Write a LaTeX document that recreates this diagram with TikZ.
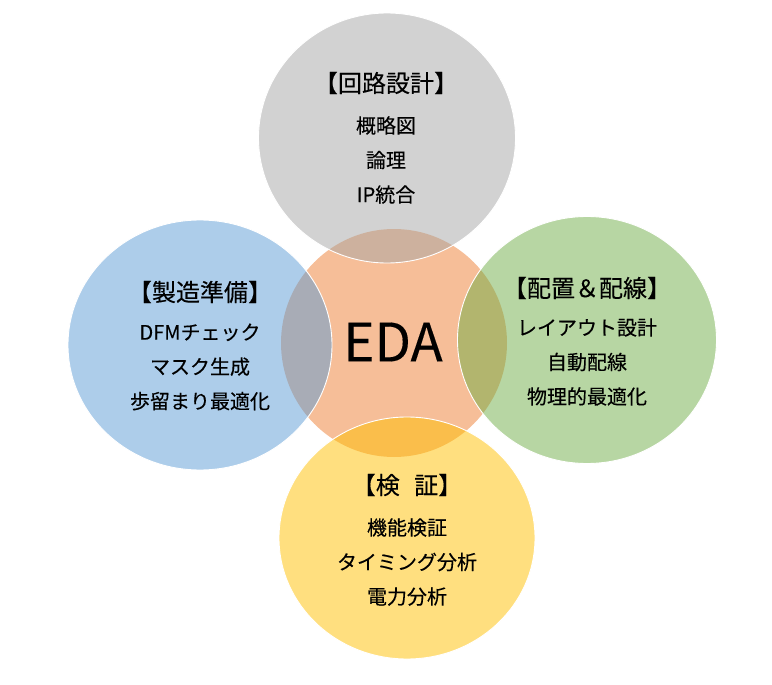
\documentclass[tikz,border=0pt]{standalone}
\usepackage{fontspec}
\newfontfamily\jp[FakeBold=0.2]{Noto Sans CJK JP}
\definecolor{edaorange}{HTML}{ED7D31}
\definecolor{edagray}{HTML}{A5A5A5}
\definecolor{edablue}{HTML}{5B9BD5}
\definecolor{edagreen}{HTML}{70AD47}
\definecolor{edayellow}{HTML}{FFC000}
\begin{document}
\begin{tikzpicture}[x=1pt,y=-1pt,
		bubble/.style={fill opacity=.5,draw=white,line width=.9pt},
		headtext/.style={font=\jp\fontsize{24}{28}\selectfont},
		itemtext/.style={font=\jp\fontsize{20}{34.5}\selectfont,align=center}]
	\useasboundingbox (0,0) rectangle (772,685);
	% core
	\fill[edaorange,fill opacity=.5] (394,343) ellipse [x radius=113pt,y radius=114pt];
	% four fields round the core
	\filldraw[bubble,fill=edagray] (387,138) ellipse [x radius=128.5pt,y radius=125pt];
	\filldraw[bubble,fill=edablue] (200,345) ellipse [x radius=132pt,y radius=125pt];
	\filldraw[bubble,fill=edagreen] (587,340) ellipse [x radius=129.5pt,y radius=123.5pt];
	\filldraw[bubble,fill=edayellow] (407,538) ellipse [x radius=128pt,y radius=121pt];
	\node[font=\jp\fontsize{53}{53}\selectfont] (eda) at (393,342) {EDA};
	\node[headtext] (designhead) at (386,83) {【回路設計】};
	\node[itemtext] (design) at (386,160) {概略図\\論理\\IP統合};
	\node[headtext] (prephead) at (200,292) {【製造準備】};
	\node[itemtext] (prep) at (200,367) {DFMチェック\\マスク生成\\歩留まり最適化};
	\node[headtext] (layouthead) at (587,288) {【配置＆配線】};
	\node[itemtext] (layout) at (587,362) {レイアウト設計\\自動配線\\物理的最適化};
	\node[headtext] (verifhead) at (407,485) {【検\hspace{.6em}証】};
	\node[itemtext] (verif) at (407,562) {機能検証\\タイミング分析\\電力分析};
\end{tikzpicture}
\end{document}
